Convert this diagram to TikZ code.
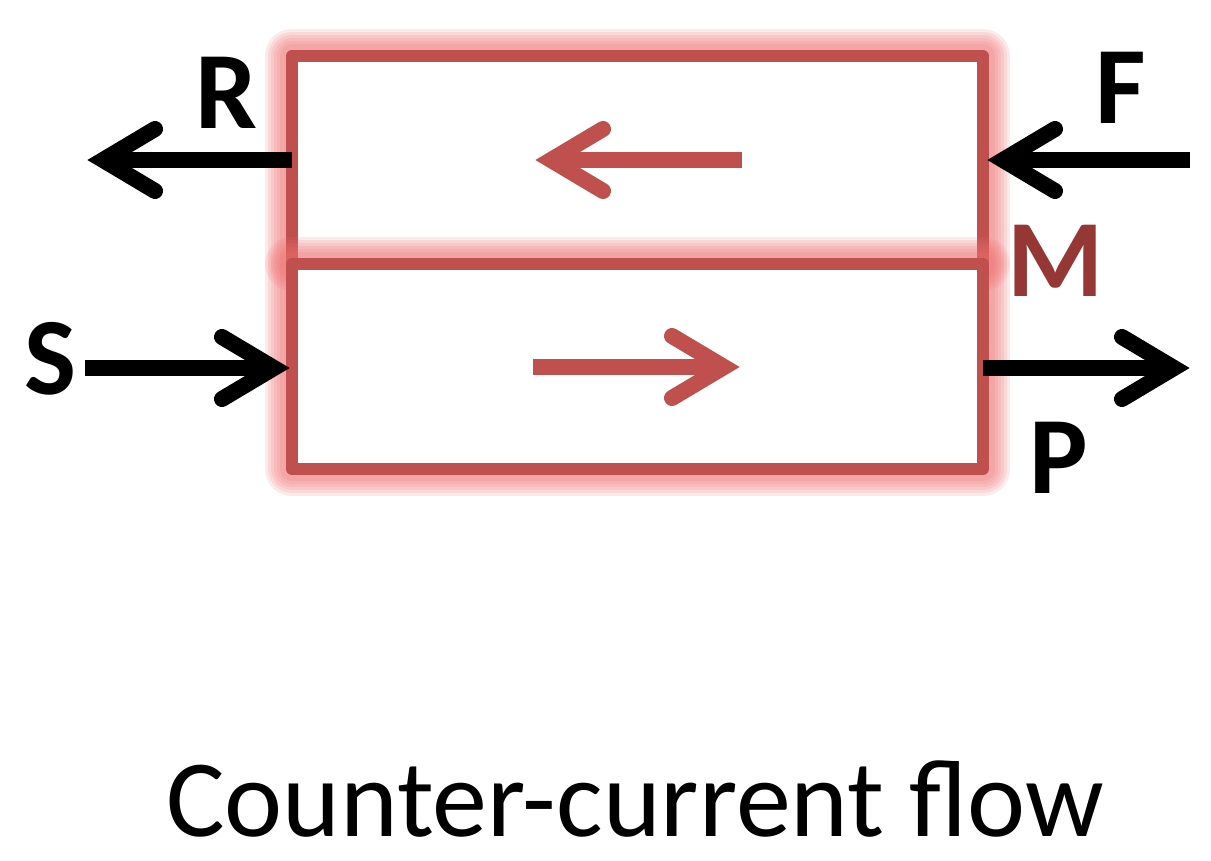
\documentclass[tikz,border=0pt]{standalone}
\usepackage{fontspec}
\setmainfont{Carlito}
\usetikzlibrary{calc}
\definecolor{boxred}{HTML}{C0504D}
\definecolor{glowred}{HTML}{EE7070}
\definecolor{mred}{HTML}{953735}
\begin{document}
\begin{tikzpicture}[x=1pt,y=-1pt,
  boxglow/.style={draw=glowred, line width=#1, opacity=0.15, line join=round},
  boxline/.style={draw=boxred, line width=12pt, fill=white, line join=round},
  blackshaft/.style={draw=black, line width=16pt, line cap=butt},
  blackhead/.style={draw=black, line width=16pt, line cap=round, line join=miter},
  redshaft/.style={draw=boxred, line width=16pt, line cap=butt},
  redhead/.style={draw=boxred, line width=16pt, line cap=round, line join=miter},
  lbl/.style={inner sep=0pt, font=\fontsize{110}{112}\selectfont\bfseries},
  caption/.style={inner sep=0pt, anchor=base, font=\fontsize{110}{112}\selectfont}]
\useasboundingbox (0,0) rectangle (1211,861);

% box corners
\coordinate (UTL) at (292,56);
\coordinate (UBR) at (983,264);
\coordinate (LTL) at (292,264);
\coordinate (LBR) at (983,469);

% upper box
\foreach \w in {54,48,42,36,30,24} {\draw[boxglow=\w pt] (UTL) rectangle (UBR);}
\draw[boxline] (UTL) rectangle (UBR);
% lower box
\foreach \w in {54,48,42,36,30,24} {\draw[boxglow=\w pt] (LTL) rectangle (LBR);}
\draw[boxline] (LTL) rectangle (LBR);

% arrow end points
\coordinate (Rs) at (292,160);  \coordinate (Rt) at (103,160);
\coordinate (Fs) at (1190,160); \coordinate (Ft) at (1003,160);
\coordinate (Ss) at (85,368);   \coordinate (St) at (274,368);
\coordinate (Ps) at (983,368);  \coordinate (Pt) at (1174,368);
\coordinate (Us) at (742,160);  \coordinate (Ut) at (551,160);
\coordinate (Ds) at (533,367);  \coordinate (Dt) at (724,367);

% black arrows
\draw[blackshaft] (Rs) -- (Rt);
\draw[blackhead] ($(Rt)+(52,-31)$) -- (Rt) -- ($(Rt)+(52,31)$);
\draw[blackshaft] (Fs) -- (Ft);
\draw[blackhead] ($(Ft)+(52,-31)$) -- (Ft) -- ($(Ft)+(52,31)$);
\draw[blackshaft] (Ss) -- (St);
\draw[blackhead] ($(St)+(-52,-31)$) -- (St) -- ($(St)+(-52,31)$);
\draw[blackshaft] (Ps) -- (Pt);
\draw[blackhead] ($(Pt)+(-52,-31)$) -- (Pt) -- ($(Pt)+(-52,31)$);

% red flow arrows
\draw[redshaft] (Us) -- (Ut);
\draw[redhead] ($(Ut)+(52,-31)$) -- (Ut) -- ($(Ut)+(52,31)$);
\draw[redshaft] (Ds) -- (Dt);
\draw[redhead] ($(Dt)+(-52,-31)$) -- (Dt) -- ($(Dt)+(-52,31)$);

% labels
\node[lbl] (R) at (226,93) {R};
\node[lbl] (F) at (1121,88) {F};
\node[lbl, text=mred] (M) at (1056,261) {M};
\node[lbl] (S) at (50,359) {S};
\node[lbl] (P) at (1059,458) {P};

\node[caption] (cap) at (635,836) {Counter-current flow};
\end{tikzpicture}
\end{document}
